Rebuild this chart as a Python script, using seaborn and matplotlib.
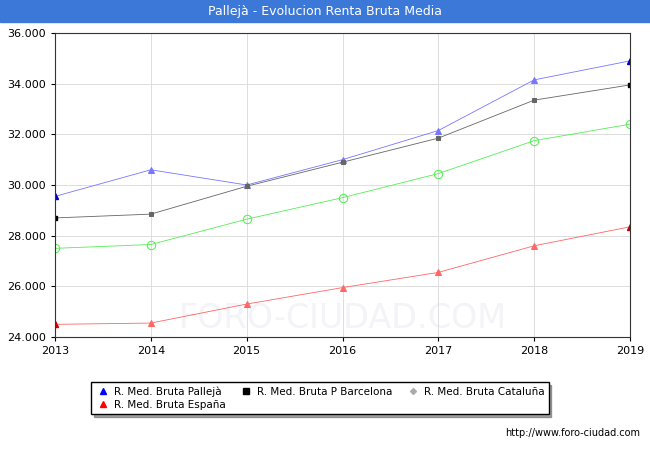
import matplotlib
matplotlib.use("Agg")
import matplotlib.pyplot as plt
import seaborn as sns
import pandas as pd
from matplotlib.lines import Line2D

years = [2013, 2014, 2015, 2016, 2017, 2018, 2019]
palleja = [29550, 30600, 30000, 31000, 32150, 34150, 34900]
barcelona = [28700, 28850, 29950, 30900, 31850, 33350, 33950]
cataluna = [27500, 27650, 28650, 29500, 30450, 31750, 32400]
espana = [24500, 24550, 25300, 25950, 26550, 27600, 28350]
yticks = [24000, 26000, 28000, 30000, 32000, 34000, 36000]

fig = plt.figure(figsize=(6.5, 4.5), dpi=100)
fig.patch.set_facecolor("white")
ax = fig.add_axes([55/650, 1-337/450, 575/650, 304/450])
fig.patches.append(plt.Rectangle((0, 1-22/450), 1, 22/450, transform=fig.transFigure, color="#3b78d8", zorder=0))
fig.text(0.5, 1-11/450, "Pallejà - Evolucion Renta Bruta Media", color="white", ha="center", va="center", fontsize=9)

def plot(vals, color, marker, mfc, ms):
    df = pd.DataFrame({"x": years, "y": vals})
    sns.lineplot(data=df, x="x", y="y", ax=ax, color=color, lw=0.6, marker=marker,
                 markersize=ms, markerfacecolor=mfc, markeredgecolor=color)

plot(palleja, "#7777ff", "^", "#7777ff", 4)
plot(barcelona, "#666666", "s", "#666666", 3)
plot(cataluna, "#55ee55", "o", "none", 6)
plot(espana, "#ff6666", "^", "#ff6666", 4)
ax.plot([years[0], years[-1]], [palleja[0], palleja[-1]], "^", color="#0000cc", ms=4, ls="none")
ax.plot([years[0], years[-1]], [barcelona[0], barcelona[-1]], "s", color="black", ms=3, ls="none")
ax.plot([years[0], years[-1]], [espana[0], espana[-1]], "^", color="#cc0000", ms=4, ls="none")

ax.set_xlim(2013, 2019)
ax.set_ylim(24000, 36000)
ax.set_xticks(years)
ax.set_yticks(yticks)
ax.set_yticklabels([f"{v:,}".replace(",", ".") for v in yticks])
ax.set_xlabel(""); ax.set_ylabel("")
ax.grid(True, color="#dddddd", lw=0.7)
ax.tick_params(labelsize=8, length=3)
for s in ax.spines.values():
    s.set_color("#333333")
ax.set_facecolor("white")
ax.text(0.5, 0.03, "FORO-CIUDAD.COM", transform=ax.transAxes, ha="center", fontsize=24, color="#f3f3f8", zorder=0)

handles = [Line2D([], [], ls="none", marker="^", color="blue", ms=5),
           Line2D([], [], ls="none", marker="^", color="red", ms=5),
           Line2D([], [], ls="none", marker="s", color="black", ms=4),
           Line2D([], [], ls="none", marker="D", color="#aaaaaa", ms=3)]
labels = ["R. Med. Bruta Pallejà", "R. Med. Bruta España", "R. Med. Bruta P Barcelona", "R. Med. Bruta Cataluña"]
leg = fig.legend(handles, labels, ncol=3, loc="upper left", bbox_to_anchor=(86/650, 1-377/450),
                 fontsize=7.5, frameon=True, fancybox=False, edgecolor="black", shadow=True,
                 handletextpad=0.3, columnspacing=1.2, borderpad=0.4, labelspacing=0.3, handlelength=1.5)
fig.text(640/650, 1-433/450, "http://www.foro-ciudad.com", ha="right", va="center", fontsize=7)
fig.savefig("out.png", dpi=100)
